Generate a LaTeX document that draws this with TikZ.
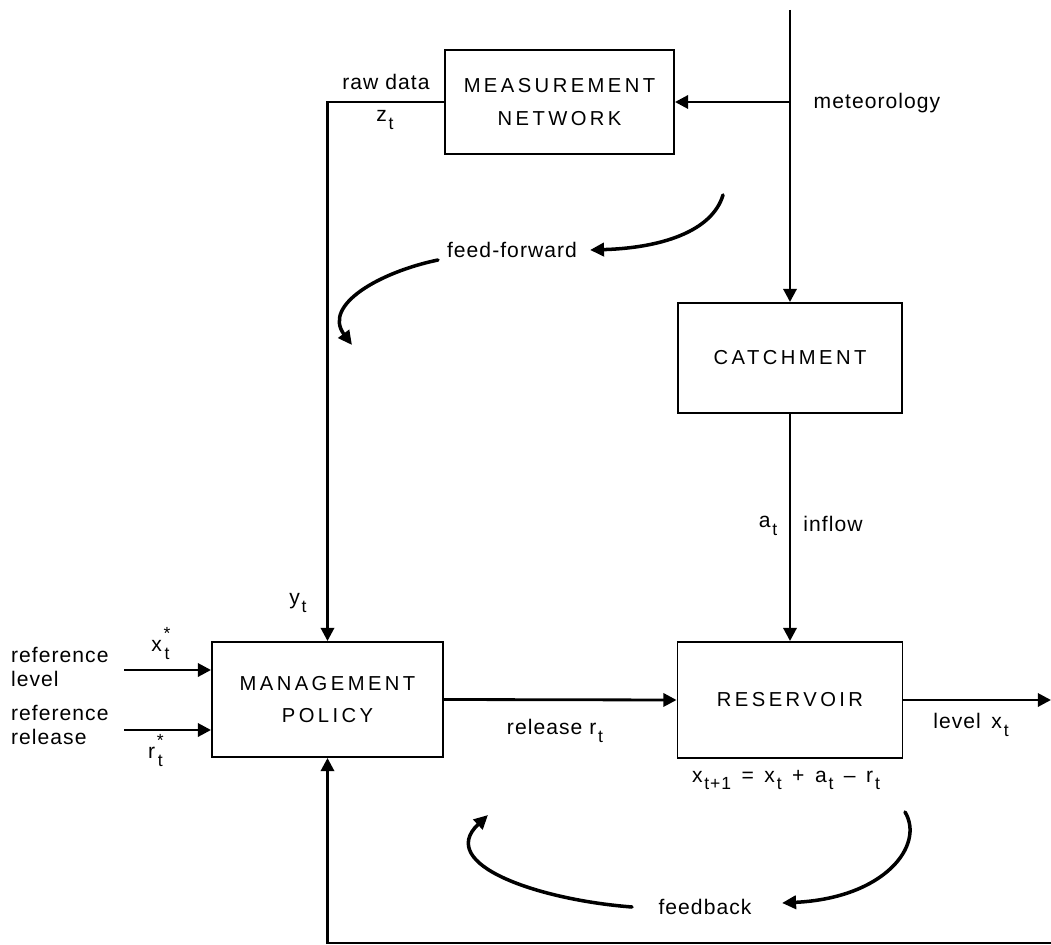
\documentclass[tikz,border=0pt]{standalone}
\usepackage{fontspec}
\setmainfont{Liberation Sans}[LetterSpace=5]
\newfontfamily\boxfont{Liberation Sans}[LetterSpace=17]
\usetikzlibrary{arrows.meta}
\newcommand{\tsub}[1]{\raisebox{-0.7ex}{\fontsize{10}{10}\selectfont #1}}
\newcommand{\sbt}[1]{#1\kern1pt\tsub{t}}
\newcommand{\sbst}[1]{#1\kern1pt\raisebox{-0.7ex}{\fontsize{10}{10}\selectfont
  \begin{tabular}[b]{@{}c@{}}*\\[1pt]t\end{tabular}}}

\begin{document}
\begin{tikzpicture}[x=0.02cm, y=-0.02cm, line width=1.6pt,
  box/.style={draw, line width=1.1pt, inner sep=0pt, align=center,
    font=\boxfont\fontsize{11.5}{18.5}\selectfont},
  lbl/.style={font=\fontsize{12}{14}\selectfont, inner sep=1.5pt, align=left},
  flow/.style={-{Triangle[length=7.5pt,width=7.5pt]}},
  loop/.style={line width=2pt, line cap=round, -{Triangle[length=8pt,width=7.5pt]}}]
  \useasboundingbox (0,0) rectangle (1051,945);

  % blocks
  \node[box, minimum width=4.58cm, minimum height=2.08cm] (meas) at (559.5,102) {MEASUREMENT\\NETWORK};
  \node[box, minimum width=4.48cm, minimum height=2.2cm] (catch) at (790,358) {CATCHMENT};
  \node[box, minimum width=4.62cm, minimum height=2.3cm] (mgmt) at (327.5,699.5) {MANAGEMENT\\POLICY};
  \node[box, minimum width=4.5cm, minimum height=2.32cm] (res) at (790,700) {RESERVOIR};

  % free ends
  \coordinate (met) at (790,10);
  \coordinate (metbr) at (790,102);
  \coordinate (inlev) at (124,670);
  \coordinate (inrel) at (124,730);
  \coordinate (out) at (1051,700);
  \coordinate (fbend) at (1051,943);

  % connectors
  \draw[flow] (met) -- (catch.north);
  \draw[flow] (metbr) -- (meas.east);
  \draw[flow] (catch.south) -- (res.north);
  \draw[flow] (meas.west) -| (mgmt.north);
  \draw[flow] (inlev) -- (inlev -| mgmt.west);
  \draw[flow] (inrel) -- (inrel -| mgmt.west);
  \draw[flow] (mgmt.east) -- (res.west);
  \draw[flow] (res.east) -- (out);
  \draw[flow] (fbend) -| (mgmt.south);

  % curved arrows
  \draw[loop] (723,195) .. controls (712,232) and (660,248) .. (590,250);
  \draw[loop] (438,260) .. controls (380,272) and (322,305) .. (352,345);
  \draw[loop] (905,812) .. controls (925,845) and (885,898) .. (782,903);
  \draw[loop] (632,907) .. controls (540,900) and (435,865) .. (488,815);

  % labels
  \node[lbl] (lraw) at (386,82) {raw data};
  \node[lbl] (lz) at (385,120) {\sbt{z}};
  \node[lbl] (lmet) at (877,103) {meteorology};
  \node[lbl] (lff) at (512,250) {feed-forward};
  \node[lbl] (ly) at (298,603) {\sbt{y}};
  \node[lbl] (la) at (768,526) {\sbt{a}};
  \node[lbl] (linf) at (833,524) {inflow};
  \node[lbl, anchor=west] (lreflev) at (7,667) {reference\\level};
  \node[lbl, anchor=west] (lrefrel) at (7,725) {reference\\release};
  \node[lbl] (lxs) at (161,646) {\sbst{x}};
  \node[lbl] (lrs) at (156,753) {\sbst{r}};
  \node[lbl] (lrel) at (555,731) {release \sbt{r}};
  \node[lbl] (llev) at (971,725) {level\enspace\sbt{x}};
  \node[lbl] (leq) at (786,780) {x\kern1pt\tsub{t+1}\enspace=\enspace\sbt{x}\enspace+\enspace\sbt{a}\enspace--\enspace\sbt{r}};
  \node[lbl] (lfb) at (705,907) {feedback};
\end{tikzpicture}
\end{document}
